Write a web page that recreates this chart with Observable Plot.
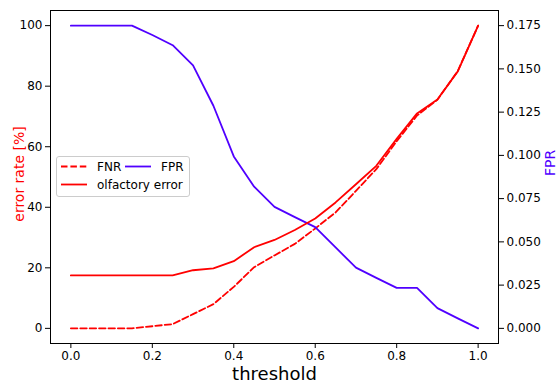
<!DOCTYPE html>
<html>
<head>
<meta charset="utf-8">
<script src="https://cdn.jsdelivr.net/npm/d3@7"></script>
<script src="https://cdn.jsdelivr.net/npm/@observablehq/plot@0.6"></script>
<style>
  html, body { margin: 0; padding: 0; background: white; }
  #wrap { position: relative; width: 557px; height: 388px; font-family: "DejaVu Sans", sans-serif; }
  #legend { position: absolute; left: 56px; top: 156px; }
</style>
</head>
<body>
<div id="wrap"></div>
<script>
// ---- data ----
const thresholds = [0, 0.05, 0.1, 0.15, 0.2, 0.25, 0.3, 0.35, 0.4, 0.45, 0.5, 0.55, 0.6, 0.65, 0.7, 0.75, 0.8, 0.85, 0.9, 0.95, 1.0];
const fnr = [0, 0, 0, 0, 0.7, 1.4, 4.7, 8.0, 13.7, 20.2, 24.1, 27.9, 33.0, 38.3, 45.4, 52.6, 61.8, 70.3, 75.5, 85.0, 100];
const olfactoryError = [17.5, 17.5, 17.5, 17.5, 17.5, 17.5, 19.2, 19.8, 22.2, 26.8, 29.2, 32.5, 36.3, 41.6, 47.6, 53.7, 62.6, 71.0, 75.6, 84.9, 100];
const fpr = [0.175, 0.175, 0.175, 0.175, 0.1696, 0.1637, 0.152, 0.1287, 0.0994, 0.0819, 0.0702, 0.0643, 0.0585, 0.0468, 0.0351, 0.0292, 0.0234, 0.0234, 0.0117, 0.0058, 0];
const xTicks = [0, 0.2, 0.4, 0.6, 0.8, 1.0];
const leftTicks = [0, 20, 40, 60, 80, 100];
const rightTicks = [0, 0.025, 0.05, 0.075, 0.1, 0.125, 0.15, 0.175];
const seriesNames = ["FNR", "FPR", "olfactory error"];

const RED = "#ff0000";
const BLUE = "#5000ff";
const k = 100 / 0.175; // right axis -> left axis mapping

const rows = thresholds.map((t, i) => ({t, fnr: fnr[i], olf: olfactoryError[i], fpr: fpr[i] * k}));

const chart = Plot.plot({
  width: 557,
  height: 388,
  marginLeft: 50,
  marginRight: 59,
  marginTop: 10,
  marginBottom: 45,
  style: {fontFamily: "DejaVu Sans, sans-serif", fontSize: "12px", color: "black", background: "white"},
  x: {domain: [-0.05, 1.05]},
  y: {domain: [-5, 105]},
  marks: [
    Plot.axisX({ticks: xTicks, tickFormat: d => d.toFixed(1), tickSize: 5, tickPadding: 3, label: null, fontSize: 12, stroke: "black"}),
    Plot.axisY({ticks: leftTicks, tickSize: 5, tickPadding: 3, label: null, fontSize: 12}),
    Plot.axisY({anchor: "right", ticks: rightTicks.map(v => v * k), tickFormat: d => (d / k).toFixed(3), tickSize: 5, tickPadding: 3, label: null, fontSize: 12}),
    Plot.line(rows, {x: "t", y: "fnr", stroke: RED, strokeWidth: 1.8, strokeDasharray: "6.5,2.9"}),
    Plot.line(rows, {x: "t", y: "fpr", stroke: BLUE, strokeWidth: 1.8}),
    Plot.line(rows, {x: "t", y: "olf", stroke: RED, strokeWidth: 1.8}),
    Plot.frame({stroke: "black", strokeWidth: 1}),
    Plot.text(["threshold"], {frameAnchor: "bottom", textAnchor: "middle", dy: 36, fontSize: 18, fill: "black"}),
    Plot.text(["error rate [%]"], {frameAnchor: "left", textAnchor: "middle", dx: -30.5, dy: -3, rotate: -90, fontSize: 14, fill: RED}),
    Plot.text(["FPR"], {frameAnchor: "right", textAnchor: "middle", dx: 52, dy: -14, rotate: -90, fontSize: 14, fill: BLUE})
  ]
});

const wrap = document.getElementById("wrap");
wrap.appendChild(chart);

// ---- legend overlay ----
const lg = d3.create("svg").attr("id", "legend").attr("width", 135).attr("height", 42)
  .style("font-family", "DejaVu Sans, sans-serif").style("font-size", "12px");
lg.append("rect").attr("x", 0.5).attr("y", 0.5).attr("width", 133).attr("height", 40).attr("rx", 2.5)
  .attr("fill", "white").attr("fill-opacity", 0.8).attr("stroke", "#cccccc").attr("stroke-width", 1);
const items = [
  {name: seriesNames[0], color: RED, dash: "6.5,2.9", hx: 5, ty: 10.5},
  {name: seriesNames[1], color: BLUE, dash: null, hx: 69, ty: 10.5},
  {name: seriesNames[2], color: RED, dash: null, hx: 5, ty: 28.5}
];
for (const it of items) {
  const l = lg.append("line").attr("x1", it.hx).attr("x2", it.hx + 26).attr("y1", it.ty).attr("y2", it.ty)
    .attr("stroke", it.color).attr("stroke-width", 1.8);
  if (it.dash) l.attr("stroke-dasharray", it.dash);
  lg.append("text").attr("x", it.hx + 36).attr("y", it.ty).attr("dy", "0.35em").attr("fill", "black").text(it.name);
}
wrap.appendChild(lg.node());
</script>
</body>
</html>
